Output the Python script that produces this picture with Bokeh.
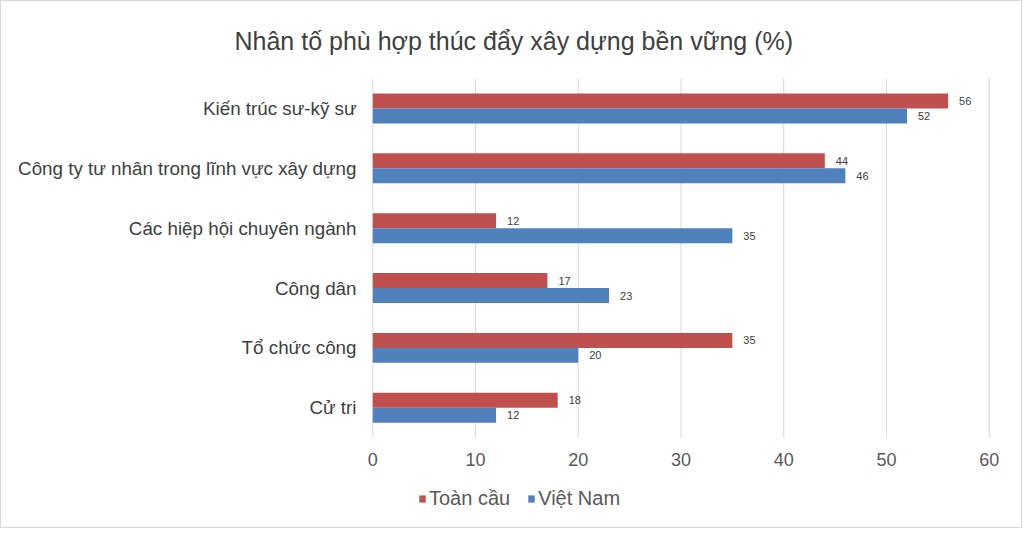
from bokeh.plotting import figure
from bokeh.models import (ColumnDataSource, Range1d, Legend, LegendItem, Title,
                          FixedTicker)
from bokeh.core.properties import value
from bokeh.embed import file_html
from bokeh.resources import INLINE

categories = ["Kiến trúc sư-kỹ sư", "Công ty tư nhân trong lĩnh vực xây dựng",
              "Các hiệp hội chuyên ngành", "Công dân", "Tổ chức công", "Cử tri"]
toan_cau = [56, 44, 12, 17, 35, 18]
viet_nam = [52, 46, 35, 23, 20, 12]
x_ticks = [0, 10, 20, 30, 40, 50, 60]

FONT = "Liberation Sans"
RED, BLUE = "#C0504D", "#4F81BD"

n = len(categories)
pos = [n - i - 0.5 for i in range(n)]   # first category on top

src = ColumnDataSource(dict(
    pos_tc=[y + 0.125 for y in pos], pos_vn=[y - 0.125 for y in pos],
    tc=toan_cau, vn=viet_nam,
    tc_lbl=[str(v) for v in toan_cau],
    vn_lbl=[str(v) for v in viet_nam],
))

# frame runs to the bottom edge so the legend can live inside it;
# a little slack left/right keeps the 0 and 60 labels from being clipped
p = figure(width=1022, height=528, output_backend="svg", toolbar_location=None,
           x_range=(-1, 61.2), y_range=Range1d(n - 452 / 60, n),
           min_border_left=361, min_border_right=22, min_border_top=76, min_border_bottom=0)
p.styles = {"border": "1px solid #D9D9D9"}

p.segment(x0=x_ticks, x1=x_ticks, y0=0, y1=n + 0.05, line_color="#D9D9D9", line_width=1)

r_tc = p.hbar(y="pos_tc", right="tc", left=0, height=0.25, source=src,
              color=RED, line_color=None)
r_vn = p.hbar(y="pos_vn", right="vn", left=0, height=0.25, source=src,
              color=BLUE, line_color=None)

p.text(x="tc", y="pos_tc", text="tc_lbl", source=src, x_offset=11,
       text_baseline="middle", text_font_size="11px",
       text_font=value(FONT), text_color="#404040")
p.text(x="vn", y="pos_vn", text="vn_lbl", source=src, x_offset=11,
       text_baseline="middle", text_font_size="11px",
       text_font=value(FONT), text_color="#404040")

p.add_layout(Title(text="Nhân tố phù hợp thúc đẩy xây dựng bền vững (%)", align="left",
                   offset=-128, text_font=FONT, text_font_size="25px",
                   text_font_style="normal", text_color="#404040", standoff=47), "above")

p.xaxis.ticker = FixedTicker(ticks=x_ticks)
p.xaxis.fixed_location = 0
p.xaxis.axis_line_color = None
p.xaxis.major_tick_line_color = None
p.xaxis.minor_tick_line_color = None
p.xaxis.major_tick_out = 0
p.xaxis.major_label_text_font = FONT
p.xaxis.major_label_text_font_size = "18px"
p.xaxis.major_label_text_color = "#595959"
p.xaxis.major_label_standoff = 15

p.yaxis.ticker = FixedTicker(ticks=pos)
p.yaxis.major_label_overrides = {y: c for y, c in zip(pos, categories)}
p.yaxis.axis_line_color = None
p.yaxis.major_tick_line_color = None
p.yaxis.minor_tick_line_color = None
p.yaxis.major_tick_out = 0
p.yaxis.major_label_text_font = FONT
p.yaxis.major_label_text_font_size = "18.8px"
p.yaxis.major_label_text_color = "#404040"
p.yaxis.major_label_standoff = 6

p.grid.grid_line_color = None
p.outline_line_color = None

legend = Legend(items=[LegendItem(label="Toàn cầu", renderers=[r_tc]),
                       LegendItem(label="Việt Nam", renderers=[r_vn])],
                orientation="horizontal", location=(56, 19),
                glyph_width=8, glyph_height=9, label_standoff=3, spacing=17,
                padding=0, margin=0, border_line_color=None, background_fill_alpha=0,
                label_text_font=FONT, label_text_font_size="20px",
                label_text_color="#595959", label_height=20)
p.add_layout(legend, "center")

open("out.html", "w").write(file_html(p, INLINE))
